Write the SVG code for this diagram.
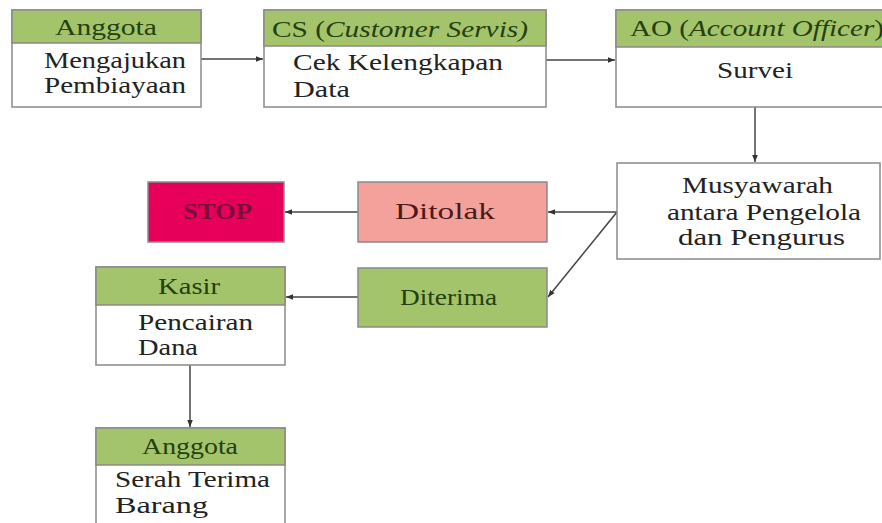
<svg xmlns="http://www.w3.org/2000/svg" width="882" height="523" viewBox="0 0 882 523">
<defs>
<marker id="ah" viewBox="0 0 10 10" refX="10" refY="5" markerWidth="7" markerHeight="7" markerUnits="userSpaceOnUse" orient="auto">
<path d="M0,1 L10,5 L0,9 z" fill="#333"/>
</marker>
<style>
.box{stroke:#8a8a8a;stroke-width:1.5}
.wh{fill:#fff}
.gr{fill:#a3c46b}
.t{font-family:"Liberation Serif","Times New Roman",serif;font-size:24px;fill:#222}
.h{fill:#25400f}
.ln{stroke:#444;stroke-width:1.5;fill:none;marker-end:url(#ah)}
</style>
</defs>
<rect width="882" height="523" fill="#fff"/>
<g id="connectors">
<line class="ln" x1="201" y1="59" x2="263" y2="59"/>
<line class="ln" x1="546" y1="60" x2="615" y2="60"/>
<line class="ln" x1="755" y1="107" x2="755" y2="162"/>
<line class="ln" x1="617" y1="212" x2="548" y2="212"/>
<line class="ln" x1="617" y1="212" x2="548" y2="297"/>
<line class="ln" x1="358" y1="212" x2="285" y2="212"/>
<line class="ln" x1="358" y1="297" x2="286" y2="297"/>
<line class="ln" x1="190" y1="365" x2="190" y2="427"/>
</g>
<g id="anggota1">
<rect class="box wh" x="12" y="10" width="189" height="97"/>
<rect class="box gr" x="12" y="10" width="189" height="33"/>
<text class="t h" x="55" y="35" textLength="102" lengthAdjust="spacingAndGlyphs">Anggota</text>
<text class="t" x="44" y="68" textLength="142" lengthAdjust="spacingAndGlyphs">Mengajukan</text>
<text class="t" x="44" y="93" textLength="142" lengthAdjust="spacingAndGlyphs">Pembiayaan</text>
</g>
<g id="cs">
<rect class="box wh" x="264" y="10" width="282" height="97"/>
<rect class="box gr" x="264" y="10" width="282" height="36"/>
<text class="t h" x="272" y="37" textLength="256" lengthAdjust="spacingAndGlyphs">CS (<tspan font-style="italic">Customer Servis)</tspan></text>
<text class="t" x="293" y="70" textLength="210" lengthAdjust="spacingAndGlyphs">Cek Kelengkapan</text>
<text class="t" x="293" y="97" textLength="57" lengthAdjust="spacingAndGlyphs">Data</text>
</g>
<g id="ao">
<rect class="box wh" x="616" y="10" width="270" height="97"/>
<rect class="box gr" x="616" y="10" width="270" height="37"/>
<text class="t h" x="630" y="36" textLength="254" lengthAdjust="spacingAndGlyphs">AO (<tspan font-style="italic">Account Officer</tspan>)</text>
<text class="t" x="717" y="78" textLength="76" lengthAdjust="spacingAndGlyphs">Survei</text>
</g>
<g id="musyawarah">
<rect class="box wh" x="617" y="163" width="263" height="96"/>
<text class="t" x="682" y="193" textLength="151" lengthAdjust="spacingAndGlyphs">Musyawarah</text>
<text class="t" x="667" y="220" textLength="194" lengthAdjust="spacingAndGlyphs">antara Pengelola</text>
<text class="t" x="678" y="245" textLength="167" lengthAdjust="spacingAndGlyphs">dan Pengurus</text>
</g>
<g id="stop">
<rect class="box" fill="#e6005a" x="148" y="182" width="136" height="60"/>
<text class="t" style="fill:#7d0b3c;font-weight:bold" x="183" y="219" textLength="69" lengthAdjust="spacingAndGlyphs">STOP</text>
</g>
<g id="ditolak">
<rect class="box" fill="#f4a09b" x="358" y="182" width="189" height="60"/>
<text class="t" style="fill:#4a1a1a" x="395" y="219" textLength="100" lengthAdjust="spacingAndGlyphs">Ditolak</text>
</g>
<g id="diterima">
<rect class="box gr" x="358" y="268" width="189" height="59"/>
<text class="t h" x="400" y="305" textLength="97" lengthAdjust="spacingAndGlyphs">Diterima</text>
</g>
<g id="kasir">
<rect class="box wh" x="96" y="267" width="189" height="98"/>
<rect class="box gr" x="96" y="267" width="189" height="38"/>
<text class="t h" x="158" y="294" textLength="62" lengthAdjust="spacingAndGlyphs">Kasir</text>
<text class="t" x="138" y="330" textLength="115" lengthAdjust="spacingAndGlyphs">Pencairan</text>
<text class="t" x="138" y="355" textLength="60" lengthAdjust="spacingAndGlyphs">Dana</text>
</g>
<g id="anggota2">
<rect class="box wh" x="96" y="428" width="189" height="100"/>
<rect class="box gr" x="96" y="428" width="189" height="37"/>
<text class="t h" x="142" y="454" textLength="96" lengthAdjust="spacingAndGlyphs">Anggota</text>
<text class="t" x="115" y="487" textLength="155" lengthAdjust="spacingAndGlyphs">Serah Terima</text>
<text class="t" x="115" y="513" textLength="93" lengthAdjust="spacingAndGlyphs">Barang</text>
</g>
</svg>
